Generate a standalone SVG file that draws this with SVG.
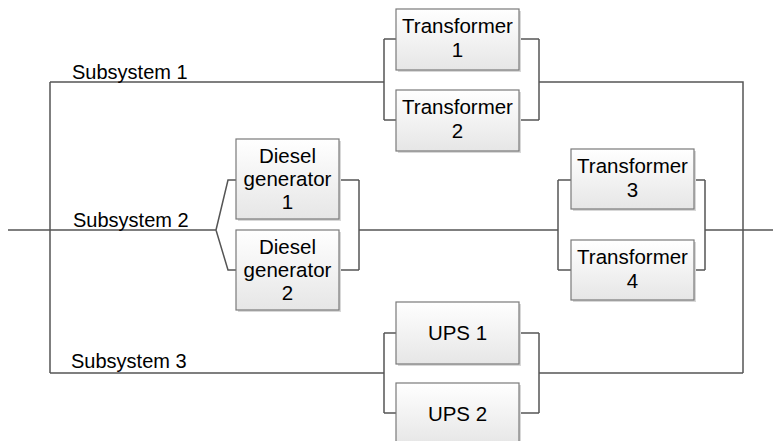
<svg xmlns="http://www.w3.org/2000/svg" width="774" height="441" viewBox="0 0 774 441">
<defs>
<linearGradient id="g" x1="0" y1="0" x2="0" y2="1">
<stop offset="0" stop-color="#ffffff"/>
<stop offset="1" stop-color="#e6e6e6"/>
</linearGradient>
<style>
.box{fill:url(#g);stroke:#7a7a7a;stroke-width:1.2}
.sh{fill:#d8d8d8}
.t{font-family:"Liberation Sans",Arial,sans-serif;font-size:20.5px;fill:#000;text-anchor:middle}
.l{font-family:"Liberation Sans",Arial,sans-serif;font-size:20px;fill:#000}
.c{fill:none;stroke:#555;stroke-width:1.5}
</style>
</defs>
<rect width="774" height="441" fill="#fff"/>
<g id="connectors">
<path class="c" d="M8,230 H216"/>
<path class="c" d="M50,82 V373"/>
<path class="c" d="M50,82 H384 M384,39 V120 M384,39 H396 M384,120 H396"/>
<path class="c" d="M519,39 H539 M519,120 H539 M539,39 V120 M539,82 H743 V373"/>
<path class="c" d="M216,230 L228,180 H236 M216,230 L228,270 H236"/>
<path class="c" d="M339,180 H359 M339,270 H359 M359,180 V270 M359,230 H558"/>
<path class="c" d="M558,180 V270 M558,180 H571 M558,270 H571"/>
<path class="c" d="M694,180 H705 M694,270 H705 M705,180 V270 M705,230 H773"/>
<path class="c" d="M50,373 H384 M384,333 V413 M384,333 H396 M384,413 H396"/>
<path class="c" d="M519,333 H539 M519,413 H539 M539,333 V413 M539,373 H743"/>
</g>
<g id="labels">
<text class="l" x="72" y="79">Subsystem 1</text>
<text class="l" x="73" y="227">Subsystem 2</text>
<text class="l" x="71" y="368">Subsystem 3</text>
</g>
<g id="transformer1">
<rect class="sh" x="398" y="11" width="123" height="61"/>
<rect class="box" x="396" y="9" width="123" height="61"/>
<text class="t" x="457.5" y="33">Transformer</text>
<text class="t" x="457.5" y="57">1</text>
</g>
<g id="transformer2">
<rect class="sh" x="398" y="92" width="123" height="61"/>
<rect class="box" x="396" y="90" width="123" height="61"/>
<text class="t" x="457.5" y="114">Transformer</text>
<text class="t" x="457.5" y="138">2</text>
</g>
<g id="diesel1">
<rect class="sh" x="238" y="141" width="103" height="80"/>
<rect class="box" x="236" y="139" width="103" height="80"/>
<text class="t" x="287.5" y="163">Diesel</text>
<text class="t" x="287.5" y="186">generator</text>
<text class="t" x="287.5" y="209">1</text>
</g>
<g id="diesel2">
<rect class="sh" x="238" y="232" width="103" height="80"/>
<rect class="box" x="236" y="230" width="103" height="80"/>
<text class="t" x="287.5" y="254">Diesel</text>
<text class="t" x="287.5" y="277">generator</text>
<text class="t" x="287.5" y="300">2</text>
</g>
<g id="transformer3">
<rect class="sh" x="573" y="151" width="123" height="60"/>
<rect class="box" x="571" y="149" width="123" height="60"/>
<text class="t" x="632.5" y="173">Transformer</text>
<text class="t" x="632.5" y="197">3</text>
</g>
<g id="transformer4">
<rect class="sh" x="573" y="242" width="123" height="60"/>
<rect class="box" x="571" y="240" width="123" height="60"/>
<text class="t" x="632.5" y="264">Transformer</text>
<text class="t" x="632.5" y="288">4</text>
</g>
<g id="ups1">
<rect class="sh" x="398" y="304" width="123" height="62"/>
<rect class="box" x="396" y="302" width="123" height="62"/>
<text class="t" x="457.5" y="340">UPS 1</text>
</g>
<g id="ups2">
<rect class="sh" x="398" y="385" width="123" height="62"/>
<rect class="box" x="396" y="383" width="123" height="62"/>
<text class="t" x="457.5" y="421">UPS 2</text>
</g>
</svg>
